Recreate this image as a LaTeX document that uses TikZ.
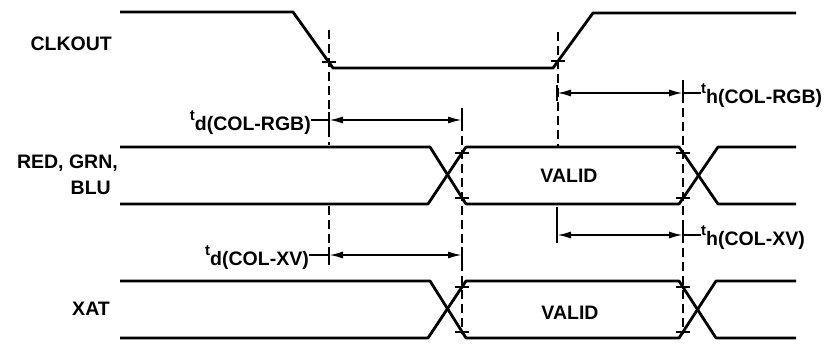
\documentclass[tikz,border=0pt]{standalone}
\usepackage{fontspec}
\setmainfont{Liberation Sans}
\usetikzlibrary{arrows.meta}
\tikzset{
  lbl/.style={font=\fontsize{19.5}{21}\selectfont\bfseries, inner sep=0pt},
  sig/.style={line width=2.8pt, line join=round},
  guide/.style={line width=1.6pt, dash pattern=on 9pt off 5pt},
  tick/.style={line width=1.9pt},
  meas/.style={line width=1.9pt, {Latex[length=14pt,width=7pt]}-{Latex[length=14pt,width=7pt]}},
  lead/.style={line width=1.9pt}
}
\newcommand{\tlabel}[1]{\raisebox{10pt}{\fontsize{15}{15}\selectfont t}#1}
\begin{document}
\begin{tikzpicture}[x=1pt,y=-1pt]
\useasboundingbox (0,0) rectangle (834,345);
% signal names
\node[lbl, anchor=base east] (nclk) at (112,50) {CLKOUT};
\node[lbl, anchor=base east] (nrgb1) at (118,168) {RED, GRN,};
\node[lbl, anchor=base east] (nrgb2) at (111,194) {BLU};
\node[lbl, anchor=base east] (nxat) at (110,315) {XAT};
% CLKOUT
\draw[sig] (120,12) -- (293,12) -- (333,68) -- (553,68) -- (593,13) -- (796,13);
% RED/GRN/BLU
\draw[sig] (120,147) -- (430,147) -- (466,204) -- (679,204) -- (718,147) -- (796,147);
\draw[sig] (120,204) -- (428,204) -- (466,147) -- (679,147) -- (718,204) -- (796,204);
\node[lbl] (v1) at (569,176) {VALID};
% XAT
\draw[sig] (120,281) -- (430,281) -- (466,338) -- (679,338) -- (716,281) -- (796,281);
\draw[sig] (120,338) -- (428,338) -- (466,281) -- (679,281) -- (716,338) -- (796,338);
\node[lbl] (v2) at (570,313) {VALID};
% guide lines
\draw[guide] (329,30) -- (329,145);
\draw[guide] (329,206) -- (329,265);
\draw[guide] (462,108) -- (462,334);
\draw[guide] (558,32) -- (558,146);
\draw[guide] (683,80) -- (683,334);
\draw[tick] (557,207) -- (557,243);
% cross ticks at transitions
\foreach \p in {(329,62),(558,61),(462,153),(462,198),(683,153),(683,198),(462,287),(462,332),(683,287),(683,332)}
  \draw[tick] \p ++(-7,0) -- ++(14,0);
% coordinates for measurement arrows
\coordinate (a1) at (329,120); \coordinate (b1) at (462,120);
\coordinate (a2) at (557,93);  \coordinate (b2) at (683,93);
\coordinate (a3) at (329,255); \coordinate (b3) at (462,255);
\coordinate (a4) at (557,235); \coordinate (b4) at (683,235);
\foreach \c in {a1,b1,a2,b2,a3,b3,b4}
  \draw[tick] (\c) ++(0,-8) -- ++(0,16);
\draw[meas] (a1) -- (b1);
\draw[meas] (a2) -- (b2);
\draw[meas] (a3) -- (b3);
\draw[meas] (a4) -- (b4);
% labels
\node[lbl, anchor=base east] (l1) at (311,130) {\tlabel{d(COL-RGB)}};
\node[lbl, anchor=base west] (l2) at (701,103) {\tlabel{h(COL-RGB)}};
\node[lbl, anchor=base east] (l3) at (309,265) {\tlabel{d(COL-XV)}};
\node[lbl, anchor=base west] (l4) at (701,245) {\tlabel{h(COL-XV)}};
\draw[lead] (a1) -- (a1 -| l1.east);
\draw[lead] (b2) -- (b2 -| l2.west);
\draw[lead] (a3) -- (a3 -| l3.east);
\draw[lead] (b4) -- (b4 -| l4.west);
\end{tikzpicture}
\end{document}
